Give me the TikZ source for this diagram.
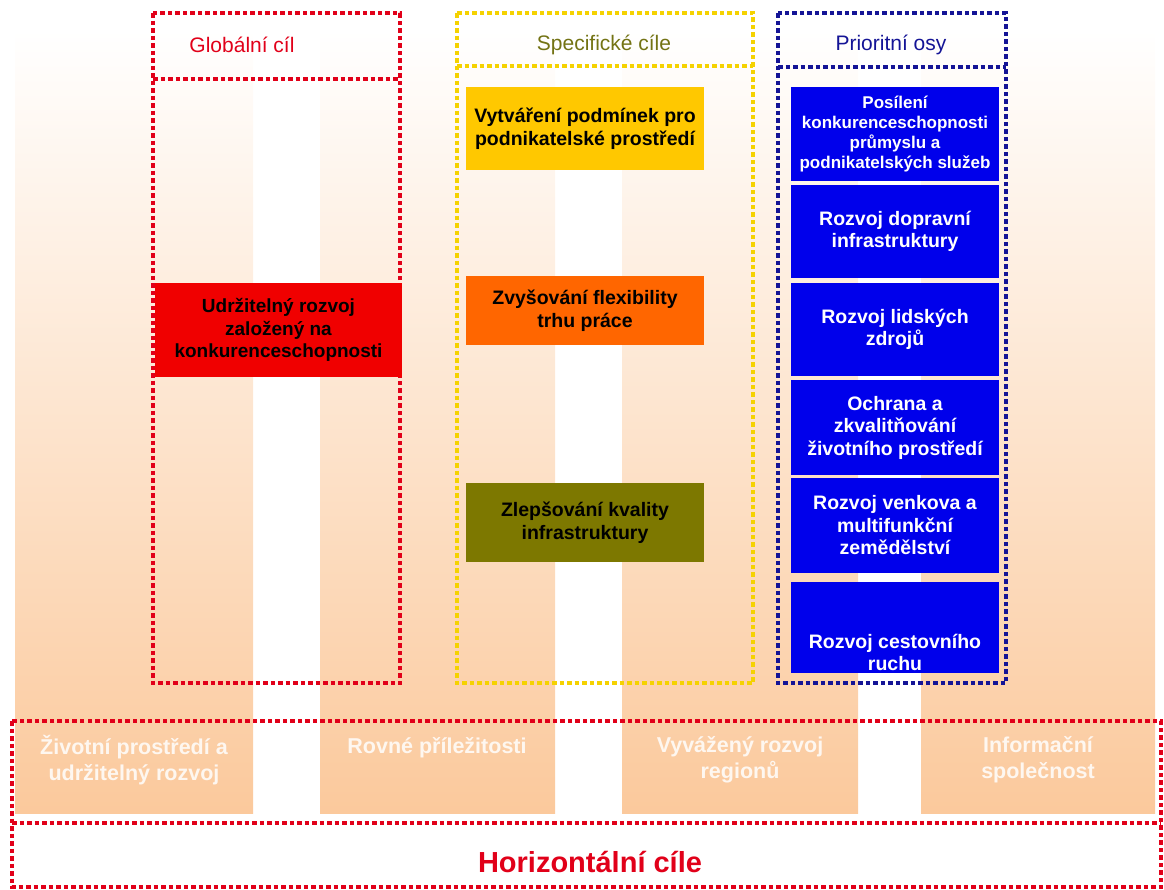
\documentclass[tikz,border=0pt]{standalone}
\usepackage{fontspec}
\setmainfont{Liberation Sans}
\usetikzlibrary{positioning}

\definecolor{peach}{RGB}{251,201,156}
\definecolor{gcred}{RGB}{225,0,25}
\definecolor{scyellow}{RGB}{245,210,0}
\definecolor{scolive}{RGB}{115,115,20}
\definecolor{ponavy}{RGB}{20,20,150}
\definecolor{goalred}{RGB}{240,0,0}
\definecolor{specyellow}{RGB}{255,200,0}
\definecolor{specorange}{RGB}{255,102,0}
\definecolor{specolive}{RGB}{125,120,0}
\definecolor{prblue}{RGB}{0,0,235}

\begin{document}
\begin{tikzpicture}[x=1pt, y=-1pt,
    dots/.style={line width=4.5pt, dash pattern=on 4.5pt off 3pt},
    head/.style={font=\fontsize{21}{25}\selectfont},
    spec/.style={minimum width=238pt, inner sep=0pt, align=center, font=\fontsize{19.5}{23}\selectfont\bfseries},
    prio/.style={fill=prblue, minimum width=208pt, inner sep=0pt, align=center, text=white, font=\fontsize{19.5}{22.5}\selectfont\bfseries},
    horiz/.style={align=center, text=white!85!peach, font=\fontsize{21.5}{26}\selectfont\bfseries}]
    \useasboundingbox (0,0) rectangle (1164,889);

    \foreach \xl/\xr in {15/253, 320/555, 622/858, 921/1155}
      \shade[top color=white, bottom color=peach] (\xl,30) rectangle (\xr,813);

    \draw[dots, gcred] (153,13) rectangle (400,683);
    \draw[dots, gcred] (153,79) -- (400,79);
    \draw[dots, scyellow] (457,13) rectangle (753,683);
    \draw[dots, scyellow] (457,66) -- (753,66);
    \draw[dots, ponavy] (778,13) rectangle (1006,683);
    \draw[dots, ponavy] (778,67) -- (1006,67);
    \draw[dots, gcred] (12,721) rectangle (1161,887);
    \draw[dots, gcred] (12,823) -- (1161,823);

    \node[head, text=gcred] (hg) at (242,45) {Globální cíl};
    \node[head, text=scolive] (hs) at (604,45) {Specifické cíle};
    \node[head, text=ponavy] (hp) at (891,45) {Prioritní osy};

    \node[fill=goalred, minimum width=247pt, minimum height=94pt, inner sep=0pt, align=center,
          font=\fontsize{19}{22.5}\selectfont\bfseries] (gl) at (278.5,330)
          {Udržitelný rozvoj\\založený na\\konkurenceschopnosti};

    \node[spec, fill=specyellow, minimum height=83pt] (s1) at (585,128.5) {Vytváření podmínek pro\\podnikatelské prostředí};
    \node[spec, fill=specorange, minimum height=69pt] (s2) at (585,310.5) {Zvyšování flexibility\\trhu práce};
    \node[spec, fill=specolive, minimum height=79pt] (s3) at (585,522.5) {Zlepšování kvality\\infrastruktury};

    \node[prio, minimum height=94pt, font=\fontsize{17}{20}\selectfont\bfseries] (p1) at (895,134)
          {Posílení\\konkurenceschopnosti\\průmyslu a\\podnikatelských služeb};
    \node[prio, minimum height=93pt] (p2) at (895,231.5) {Rozvoj dopravní\\infrastruktury};
    \node[prio, minimum height=93pt] (p3) at (895,329.5) {Rozvoj lidských\\zdrojů};
    \node[prio, minimum height=95pt] (p4) at (895,427.5) {Ochrana a\\zkvalitňování\\životního prostředí};
    \node[prio, minimum height=95pt] (p5) at (895,525.5) {Rozvoj venkova a\\multifunkční\\zemědělství};
    \node[prio, minimum height=91pt] (p6) at (895,627.5) {};
    \node[prio, fill=none, anchor=south] (p6t) at ([yshift=2pt]p6.south) {Rozvoj cestovního\\ruchu};

    \node[horiz] (h1) at (134,760) {Životní prostředí a\\udržitelný rozvoj};
    \node[horiz] (h2) at (437,748) {Rovné příležitosti};
    \node[horiz] (h3) at (740,760) {Vyvážený rozvoj\\regionů};
    \node[horiz] (h4) at (1038,760) {Informační\\společnost};

    \node[text=gcred, font=\fontsize{29}{33}\selectfont\bfseries] (hc) at (590,862) {Horizontální cíle};
\end{tikzpicture}
\end{document}
